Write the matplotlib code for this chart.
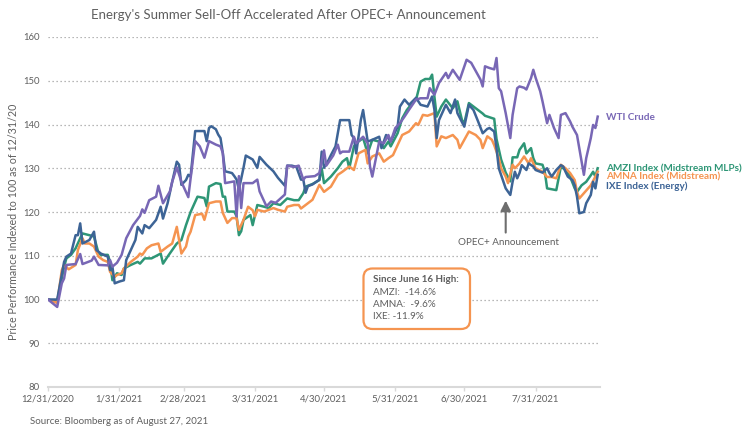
import matplotlib
matplotlib.use('Agg')
import matplotlib.pyplot as plt
import pandas as pd
from matplotlib.patches import FancyBboxPatch

plt.rcParams['font.family'] = ['Lato', 'DejaVu Sans']

start = pd.Timestamp('2020-12-31')

# day offsets from 12/31/2020 and index values
wti_days = [0,4,6,7,8,12,14,15,19,20,22,26,27,28,30,32,34,37,40,41,42,44,47,48,50,53,54,56,58,61,
            64,66,68,70,73,75,76,77,81,82,83,84,85,89,91,92,95,97,99,103,104,107,109,111,112,116,118,120,121,124,
            126,127,128,131,133,134,137,139,140,141,143,144,146,148,149,151,153,155,157,160,162,165,166,168,170,173,174,176,179,182,
            184,188,189,190,192,194,195,196,197,199,201,202,204,205,207,208,210,211,212,214,215,217,218,219,220,222,223,225,227,228,
            230,231,233,234,236,237,238,239]
wti = [100,98.3,103.7,104.8,107.9,108.1,110.4,108.1,108.9,109.8,107.9,107.8,109,107.5,108.4,110.2,114,117,119.1,120.6,119.8,122.7,123.5,126,122,124.7,126.9,130.2,126.9,123.4,
       136.2,135,132.4,136.2,135.4,135,133.5,126.6,127,119,128.2,120.9,126.6,126.6,127.4,124.7,121.3,122.4,122.1,124,130.6,130.3,130.6,127.4,128,128.2,128.9,134.1,130.6,132.9,
       135.4,133.4,133.8,133.8,137.2,135.7,137.2,135.7,130.4,128.1,133.4,136.1,135.7,137.6,136.1,139.2,140.3,141.8,143.4,145.7,146,146,148.3,146.8,149.5,151.8,150.6,152.5,150.2,154.8,
       154.1,150.3,148.7,153.3,152.9,152.6,155.2,148.3,147.6,142.6,136.9,142.2,148.3,148.7,148.4,148,150.6,152.5,150.7,147.6,145.3,140.3,142.2,140.7,139.2,136.9,142.2,142.6,140.7,139.5,
       137.6,134.6,128.5,132.3,136.9,139.9,139.2,141.8]

ixe_days = [0,4,7,8,10,12,13,14,15,18,20,21,23,26,27,28,29,31,33,34,36,38,39,41,42,44,47,49,50,52,
            54,56,57,58,60,61,62,64,68,69,70,71,73,74,75,76,77,80,81,82,83,85,86,89,91,92,95,98,100,103,
            104,106,108,110,111,112,113,115,118,119,120,122,123,125,126,127,131,132,133,134,135,136,137,139,141,144,145,147,149,152,
            153,155,157,160,162,165,167,168,169,170,173,175,177,178,181,183,185,187,189,191,192,194,195,196,198,199,201,202,203,204,
            205,206,208,209,211,212,214,215,217,218,219,221,223,224,225,226,228,229,230,231,233,234,236,237,238,239]
ixe = [100,100,108.6,109.8,110.5,114.7,114.7,117.4,112.8,113.6,115.5,111.3,110.5,109.8,106.7,107.5,103.7,104.1,104.4,109,111.3,113.6,116.6,115.1,117,116.3,118.2,121.2,118.5,122,
       126.9,131.5,130.8,126.2,127.3,128.5,128.1,138.5,138.5,136.2,139.2,139.6,138.9,137.7,136.9,133.5,129.3,128.9,128.2,127.4,125.1,130.1,132.9,132,130.1,132.6,130.8,129.3,127.8,126,
       130.6,130.6,130.3,127.4,127.4,124.4,125.9,126.3,127.4,133.8,130.1,131.9,133,135,138,141,141,137.6,136.9,133.4,137.2,141,143.3,136.1,136.5,137.2,134.6,137.6,136.1,139.5,
       144.1,145.7,144.5,146.1,144.5,144.1,146.4,143.4,136.9,141,144.5,142.6,145.7,142.6,139.5,144.5,143.3,140.7,138,139,139.2,138.4,134.6,130,126.9,125.4,123.9,126.9,129.2,127.7,
       128.9,130.7,129.6,131.1,130.4,129.6,129.2,129,130,128.9,128.1,129.6,130.7,130.4,129.2,128.1,127.3,126.1,123.5,119.7,120,122,123.9,126.9,125.4,128.5]

amzi_days = [0,4,7,8,10,12,14,15,18,20,22,23,26,27,28,30,32,33,36,39,40,42,45,49,50,52,54,56,58,60,
             62,65,68,69,70,73,75,76,77,78,81,82,83,84,85,88,89,91,94,96,98,101,104,107,109,111,112,115,118,119,
             120,123,126,128,130,131,133,135,137,139,141,144,146,148,149,152,154,156,159,160,162,164,166,167,168,169,171,173,176,178,
             180,181,183,186,189,190,194,195,197,199,201,202,204,205,207,208,210,211,212,215,216,217,219,221,223,225,227,229,230,232,
             234,236,237,238,239]
amzi = [100,99.5,107.5,109.4,110.2,111.7,114,115.1,114.7,114.4,110.5,110.2,110.2,108.6,104.4,106,105.6,107.1,107.9,108.6,108.2,109.4,109.4,110.5,108.2,109.8,111.3,112.8,113.6,117,
        120,123.5,123.2,121.3,125.8,126.6,126.4,123.5,123.5,120.1,120.1,119,114.7,115.6,118.2,119.3,117,121.6,121.2,120.9,122,121.6,123.1,122.7,122.7,124.3,125.8,126.4,127.3,130,
        126.6,128.1,130,131.5,132.3,130,135,136.1,136.9,133.4,136.5,136.1,134.6,136.1,135,138,141.4,143.3,145.3,145.6,149.8,150.4,150.4,151.4,146.4,141.8,144.1,145.7,143.7,145.3,
        141,140.3,144.9,143.7,142.5,142,141.3,136.7,132,129,127,132.5,132.5,134.2,135.7,133.4,134.6,132.3,131.1,130.8,129.2,125.4,125.2,125,130.4,129.6,128.1,125.4,124.6,126.1,
        126.9,128.4,129.2,128.1,130]

amna_days = [0,4,6,7,9,12,13,15,16,18,20,22,24,26,27,29,30,32,33,36,39,40,41,43,45,48,49,52,54,56,
             58,60,61,62,64,67,68,70,73,75,76,78,80,82,83,85,87,89,90,91,94,96,98,100,103,104,107,109,110,112,
             113,115,118,120,123,126,128,131,133,135,138,139,141,144,146,148,150,152,154,157,160,161,163,165,168,169,171,173,176,178,
             179,181,183,186,188,189,191,193,194,196,197,199,200,202,203,205,207,209,210,212,215,217,219,221,223,225,227,229,230,231,
             233,236,238,239]
amna = [100,99.2,106.7,107.9,106.9,107.9,111.3,114,112.8,112.8,112.1,109.8,109,108.6,106.3,105.2,105.6,106,107.1,108.6,109.8,110.5,110.2,111.7,112.4,112.8,110.9,112.1,112.8,116.6,
        110.5,112.1,114.4,115.5,119.3,119.6,118.2,122,122.4,122.4,119.8,117.5,118.6,118.6,115.9,118.2,121.2,120.4,119,120.5,120.1,120.5,120.9,120.5,120.1,121.2,121.6,121.6,120.8,121.6,
        122,122.8,126.2,124.6,125.8,128.5,129.2,130.4,129.6,133.4,134.2,131.1,132.7,133.4,131.5,132.3,133,135.3,137.6,138.4,140.3,139.9,142.2,142,142.6,135,137.3,136.9,137.6,136.5,
        134.6,136.5,138.4,137.6,136.5,134.6,137.3,136.5,135.3,132.3,130,128.1,126.6,130.8,130,131.1,132.7,131.1,132.3,130,129.2,128,128,127.7,130.8,130,128.9,127.3,124.6,123.1,
        124.3,126.1,128.1,129.2]

series_names = ['AMZI Index (Midstream MLPs)', 'AMNA Index (Midstream)', 'IXE Index (Energy)', 'WTI Crude']
colors = {'WTI Crude': '#7867b5', 'IXE Index (Energy)': '#3d6496',
          'AMZI Index (Midstream MLPs)': '#2e9676', 'AMNA Index (Midstream)': '#f59450'}

tick_dates = ['2020-12-31', '2021-01-31', '2021-02-28', '2021-03-31', '2021-04-30',
              '2021-05-31', '2021-06-30', '2021-07-31']
tick_labels = ['12/31/2020', '1/31/2021', '2/28/2021', '3/31/2021', '4/30/2021',
               '5/31/2021', '6/30/2021', '7/31/2021']
y_ticks = [80, 90, 100, 110, 120, 130, 140, 150, 160]

box_title = 'Since June 16 High:'
box_lines = ['AMZI:  -14.6%', 'AMNA:  -9.6%', 'IXE: -11.9%']

GRAY = '#5f5f5f'


def to_dates(days):
    return start + pd.to_timedelta(days, unit='D')


fig = plt.figure(figsize=(7.5, 4.33), dpi=100)
ax = fig.add_axes([48/750, 46/433, 552/750, 350/433])
ax.set_ylim(80, 160)
ax.set_xlim(start, start + pd.Timedelta(days=240))

for v in y_ticks[1:]:
    ax.axhline(v, color='#a0a0a0', lw=0.9, ls=(0, (1, 2.2)), zorder=0)

for s in ['top', 'right', 'left']:
    ax.spines[s].set_visible(False)
ax.spines['bottom'].set_color('#d9d9d9')
ax.spines['bottom'].set_linewidth(1.5)

ax.set_yticks(y_ticks)
ax.set_yticklabels([str(v) for v in y_ticks])
ax.tick_params(axis='y', length=0, labelsize=6.8, labelcolor=GRAY, pad=6)
ax.set_xticks(pd.to_datetime(tick_dates))
ax.set_xticklabels(tick_labels)
ax.tick_params(axis='x', length=3, color='#d9d9d9', width=1, labelsize=6.9, labelcolor=GRAY, pad=2.5)

data = {
    'AMZI Index (Midstream MLPs)': (amzi_days, amzi),
    'AMNA Index (Midstream)': (amna_days, amna),
    'IXE Index (Energy)': (ixe_days, ixe),
    'WTI Crude': (wti_days, wti),
}
for name in series_names:
    d, v = data[name]
    ax.plot(to_dates(d), v, color=colors[name], lw=1.8, zorder=3)

# right-side labels
label_y = {'WTI Crude': 141.5, 'AMZI Index (Midstream MLPs)': 129.9,
           'AMNA Index (Midstream)': 128.0, 'IXE Index (Energy)': 125.9}
for name in series_names:
    ax.text(1.011, label_y[name], name, transform=ax.get_yaxis_transform(),
            color=colors[name], fontsize=7.2, fontweight='bold', va='center', ha='left', clip_on=False)

# OPEC+ announcement arrow
opec_day = 199
ax.annotate('', xy=(to_dates([opec_day])[0], 122.6), xytext=(to_dates([opec_day])[0], 115.3),
            arrowprops=dict(arrowstyle='-|>,head_width=0.3,head_length=0.6', color='#6e6e6e',
                            lw=1.5, shrinkA=0, shrinkB=0), zorder=4)
ax.text(to_dates([opec_day])[0] + pd.Timedelta(days=1), 113.0, 'OPEC+ Announcement',
        ha='center', va='center', fontsize=7.1, color=GRAY)

# annotation box
box = FancyBboxPatch((3.635, 1.04), 1.065, 0.605, boxstyle='round,pad=0,rounding_size=0.09',
                     transform=fig.dpi_scale_trans, fc='white', ec='#f59450', lw=1.6, zorder=5)
fig.patches.append(box)
fig.text(373/750, (433-280)/433, box_title, fontsize=7.1, fontweight='bold', color=GRAY,
         va='center', ha='left', zorder=6)
for i, line in enumerate(box_lines):
    fig.text(373/750, (433-292.5-12*i)/433, line, fontsize=7.1, color=GRAY,
             va='center', ha='left', zorder=6)

fig.text(288/750, (433-15)/433, "Energy's Summer Sell-Off Accelerated After OPEC+ Announcement",
         ha='center', va='center', fontsize=9.5, color=GRAY)
fig.text(14/750, (433-222)/433, 'Price Performance Indexed to 100 as of 12/31/20', rotation=90,
         ha='center', va='center', fontsize=7.7, color=GRAY)
fig.text(30/750, (433-422)/433, 'Source: Bloomberg as of August 27, 2021', ha='left', va='center',
         fontsize=7.0, color=GRAY)

fig.savefig('out.png', dpi=100)
